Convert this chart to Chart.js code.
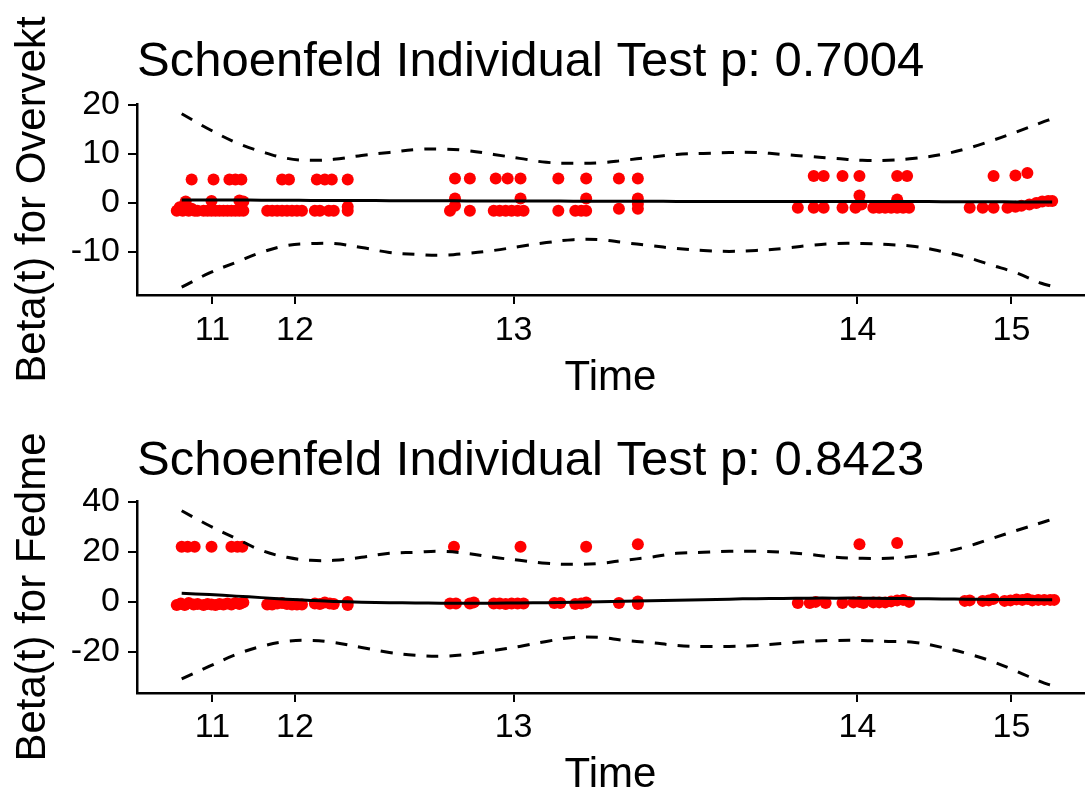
<!DOCTYPE html>
<html>
<head>
<meta charset="utf-8">
<title>Schoenfeld residuals</title>
<script src="https://cdn.jsdelivr.net/npm/chart.js@4.4.1/dist/chart.umd.min.js"></script>
<style>
  body { margin: 0; background: #fff; }
  .panel { position: absolute; left: 0; width: 1090px; height: 396px; }
</style>
</head>
<body>
<div class="panel" style="top:0"><canvas id="chartOvervekt" width="1090" height="396"></canvas></div>
<div class="panel" style="top:396px"><canvas id="chartFedme" width="1090" height="396"></canvas></div>
<script>
// time axis is km-transformed, so tick labels sit at uneven positions (0-100 scale)
const timeTicks = [11, 12, 13, 14, 15];
const timeTickPos = [7.97, 16.68, 39.77, 76.08, 92.34];

const overvektYTicks = [-10, 0, 10, 20];
const fedmeYTicks = [-20, 0, 20, 40];

// points where the smooth fit and its confidence band were read
const curveX = [4.72, 7.66, 10.49, 13.12, 15.84, 18.36, 20.78, 23.71, 26.65, 29.38,
  32.11, 34.84, 37.67, 40.40, 43.23, 46.07, 48.90, 51.42, 54.14, 56.98,
  59.81, 62.54, 65.37, 68.21, 70.93, 73.77, 76.60, 79.33, 82.16, 85.00,
  87.62, 90.24, 92.87, 95.49, 96.64];

const overvektFit = [0.6, 0.6, 0.6, 0.55, 0.55, 0.5, 0.5, 0.5, 0.45, 0.45,
  0.45, 0.4, 0.4, 0.4, 0.4, 0.35, 0.35, 0.35, 0.35, 0.3,
  0.3, 0.3, 0.3, 0.3, 0.3, 0.3, 0.3, 0.3, 0.3, 0.25,
  0.25, 0.25, 0.2, 0.2, 0.2];
const overvektUpper = [18.2, 15.0, 12.3, 10.5, 9.1, 8.7, 8.9, 9.7, 10.3, 10.9,
  11.0, 10.7, 9.9, 9.1, 8.3, 8.1, 8.2, 8.7, 9.3, 9.9,
  10.1, 10.3, 10.3, 9.9, 9.5, 9.1, 8.7, 8.7, 9.1, 9.9,
  11.1, 12.7, 14.5, 16.4, 17.2];
const overvektLower = [-17.2, -14.3, -12.1, -10.1, -8.7, -8.3, -8.3, -9.1, -10.1, -10.5,
  -10.7, -10.3, -9.7, -8.9, -8.1, -7.5, -7.5, -8.1, -8.7, -9.3,
  -9.7, -9.9, -9.7, -9.3, -8.7, -8.3, -8.3, -8.5, -8.9, -9.9,
  -11.1, -12.7, -14.3, -16.4, -17.0];

const overvektTime = [4.20, 4.51, 4.83, 5.14, 5.46, 5.77, 6.09, 6.40, 5.77, 7.03,
  7.45, 7.87, 7.87, 8.29, 8.71, 9.13, 9.55, 9.97, 10.39, 10.81,
  10.81, 11.23, 11.23, 8.08, 9.76, 10.39, 11.02, 13.75, 14.27, 14.80,
  15.32, 15.84, 16.37, 16.89, 17.42, 15.32, 16.05, 18.78, 19.31, 20.25,
  20.78, 22.25, 22.25, 18.99, 19.83, 20.57, 22.25,
  33.05, 33.58, 33.58, 35.15, 33.58, 35.15, 37.67, 38.30, 38.93, 39.56,
  40.19, 40.50, 40.82, 37.88, 39.14, 40.50, 44.49, 44.49, 46.28, 46.91,
  47.43, 47.43, 47.43, 50.89, 50.89, 52.89, 52.89, 52.89, 52.89,
  69.78, 71.46, 71.46, 72.51, 72.51, 74.50, 74.50, 75.87, 76.29, 76.50,
  76.29, 77.75, 78.38, 79.01, 79.64, 80.27, 80.27, 80.90, 81.53, 80.27,
  81.32, 87.93, 89.30, 90.45, 90.45, 91.92, 92.76, 92.76, 93.39, 94.02,
  94.23, 94.96, 95.59, 96.22, 96.64];
const overvektResid = [-1.6, -0.9, -1.6, 0.3, -1.6, -1.2, -1.6, -1.6, 4.8, -1.6,
  -1.6, 0.4, -1.6, -1.6, -1.6, -1.6, -1.6, -1.6, -1.6, 0.5,
  -1.6, -1.6, 0.3, 4.8, 4.8, 4.8, 4.8, -1.6, -1.6, -1.6,
  -1.6, -1.6, -1.6, -1.6, -1.6, 4.8, 4.8, -1.6, -1.6, -1.6,
  -1.6, -1.6, -0.8, 4.8, 4.8, 4.8, 4.8,
  -1.6, 0.9, -0.6, -1.6, 5.0, 5.0, -1.6, -1.6, -1.6, -1.6,
  -1.6, 0.9, -1.6, 5.0, 5.0, 5.0, -1.6, 5.0, -1.6, -1.6,
  0.9, -1.6, 5.0, -1.2, 5.0, -1.2, -0.2, 0.9, 5.0,
  -1.0, -1.0, 5.5, -1.0, 5.5, -1.0, 5.5, -1.0, 1.5, -0.3,
  5.5, -1.0, -1.0, -1.0, -1.0, 0.7, -1.0, -1.0, -1.0, 5.5,
  5.5, -1.0, -1.0, -1.0, 5.5, -1.0, -0.8, 5.6, -0.6, 6.1,
  -0.3, 0.0, 0.3, 0.4, 0.4];

const fedmeFit = [3.4, 2.9, 2.3, 1.7, 1.1, 0.6, 0.2, -0.1, -0.3, -0.4,
  -0.5, -0.5, -0.5, -0.4, -0.3, -0.1, 0.1, 0.3, 0.5, 0.7,
  0.9, 1.1, 1.3, 1.4, 1.5, 1.5, 1.5, 1.4, 1.3, 1.2,
  1.1, 1.0, 1.0, 0.9, 0.9];
const fedmeUpper = [36.4, 30.4, 25.3, 20.6, 17.8, 16.6, 16.6, 17.8, 19.4, 19.8,
  20.2, 19.4, 17.8, 16.6, 15.4, 15.0, 15.4, 16.6, 17.8, 19.4,
  19.8, 20.2, 20.2, 19.8, 19.0, 17.8, 17.4, 17.4, 18.2, 19.8,
  22.1, 25.3, 28.5, 31.6, 33.0];
const fedmeLower = [-30.8, -25.7, -21.0, -17.8, -15.8, -15.4, -16.2, -18.2, -20.2, -21.3,
  -21.7, -21.0, -19.4, -17.8, -15.8, -14.2, -14.2, -15.4, -16.2, -17.4,
  -17.8, -17.8, -17.4, -16.6, -15.8, -15.4, -15.4, -15.8, -16.2, -18.2,
  -20.6, -23.7, -27.7, -32.0, -33.5];

const fedmeTime = [4.72, 5.35, 6.09, 7.87, 9.97, 10.60, 11.12, 33.47, 40.50, 47.43,
  52.89, 76.29, 80.27,
  4.20, 4.62, 5.04, 5.46, 5.98, 6.40, 7.03, 7.45, 7.87, 8.29,
  8.71, 9.13, 9.55, 9.97, 10.39, 10.81, 11.23, 13.75, 14.27, 14.80,
  15.32, 15.84, 16.37, 16.89, 17.42, 18.78, 19.31, 19.83, 20.36, 20.78,
  22.25, 22.25, 33.05, 33.68, 35.15, 35.57, 37.67, 38.30, 38.93, 39.56,
  40.19, 40.82, 44.07, 44.70, 46.28, 46.91, 47.43, 50.89, 52.89, 52.89,
  69.78, 71.04, 71.67, 72.72, 74.50, 75.66, 76.29, 76.71, 77.75, 78.38,
  79.01, 79.64, 80.27, 80.90, 81.53, 87.41, 87.93, 89.30, 89.93, 90.45,
  91.61, 92.24, 92.87, 93.49, 94.02, 94.54, 95.17, 95.80, 96.43, 96.85];
const fedmeResid = [22, 22, 22, 22, 22, 22, 22, 22, 22, 22,
  23, 23, 23.5,
  -1.2, -0.6, -1.2, -0.4, -1.0, -0.8, -1.2, -0.8, -1.0, -1.2,
  -0.8, -1.0, -0.6, -1.0, -0.4, -0.8, -0.2, -1.0, -1.0, -0.6,
  -0.4, -0.8, -1.0, -1.0, -1.0, -0.6, -0.8, -0.2, -0.6, -0.8,
  -1.2, 0.0, -0.6, -0.6, -0.6, -0.2, -0.6, -0.6, -0.8, -0.6,
  -0.6, -0.6, -0.4, -0.4, -0.8, -0.6, -0.2, -0.4, -0.8, 0.2,
  -0.4, -0.4, 0.0, -0.4, -0.4, -0.2, 0.0, -0.4, -0.2, -0.2,
  -0.2, 0.2, 0.6, 0.8, 0.0, 0.4, 0.6, 0.4, 0.6, 1.2,
  0.4, 0.6, 1.0, 0.8, 1.2, 0.6, 0.8, 0.8, 0.8, 0.8];

const fontFamily = "'Liberation Sans', Arial, sans-serif";

function pairs(xs, ys) {
  return xs.map((x, i) => ({ x: x, y: ys[i] }));
}

function residualChart(id, p) {
  const curve = (ys, dash) => ({
    data: pairs(curveX, ys),
    showLine: true,
    borderColor: "#000",
    borderWidth: 3,
    borderDash: dash,
    pointRadius: 0,
    tension: 0.4
  });

  return new Chart(document.getElementById(id), {
    type: "scatter",
    data: {
      datasets: [
        curve(p.fit, []),
        curve(p.upper, [12, 11]),
        curve(p.lower, [12, 11]),
        {
          data: pairs(p.time, p.resid),
          backgroundColor: "#ff0000",
          borderWidth: 0,
          pointRadius: 6
        }
      ]
    },
    options: {
      responsive: false,
      animation: false,
      events: [],
      layout: { padding: 0 },
      plugins: {
        legend: { display: false },
        tooltip: { enabled: false },
        title: {
          display: true,
          text: p.title,
          align: "start",
          fullSize: false,
          color: "#000",
          font: { family: fontFamily, size: 49, weight: "normal", lineHeight: 1 },
          padding: { top: p.titleTop, bottom: p.titleBottom }
        }
      },
      scales: {
        x: {
          type: "linear",
          min: 0,
          max: 100,
          bounds: "data",
          afterBuildTicks: s => { s.ticks = timeTickPos.map(v => ({ value: v })); },
          afterFit: s => { s.height = p.xHeight; },
          ticks: {
            callback: (v, i) => timeTicks[i],
            autoSkip: false,
            maxRotation: 0,
            color: "#000",
            font: { family: fontFamily, size: 34, lineHeight: 1 },
            padding: p.xTickPad
          },
          grid: { drawOnChartArea: false, drawTicks: true, tickLength: 9, color: "#000", lineWidth: 2 },
          border: { display: true, color: "#000", width: 2.5 },
          title: {
            display: true,
            text: "Time",
            color: "#000",
            font: { family: fontFamily, size: 42, lineHeight: 0.8 },
            padding: { top: 0, bottom: p.timeBottom }
          }
        },
        y: {
          min: p.yMin,
          max: p.yMax,
          bounds: "data",
          afterBuildTicks: s => { s.ticks = p.yTicks.map(v => ({ value: v })); },
          afterFit: s => { s.width = 137; },
          ticks: {
            color: "#000",
            font: { family: fontFamily, size: 34, lineHeight: 1 },
            padding: 8
          },
          grid: { drawOnChartArea: false, drawTicks: true, tickLength: 9, color: "#000", lineWidth: 2 },
          border: { display: true, color: "#000", width: 2.5 },
          title: {
            display: true,
            text: p.yTitle,
            color: "#000",
            font: { family: fontFamily, size: 42, lineHeight: 1 },
            padding: { top: 12, bottom: 0 }
          }
        }
      }
    }
  });
}

residualChart("chartOvervekt", {
  title: "Schoenfeld Individual Test p: 0.7004",
  yTitle: "Beta(t) for Overvekt",
  fit: overvektFit, upper: overvektUpper, lower: overvektLower,
  time: overvektTime, resid: overvektResid,
  yMin: -18.8, yMax: 20.2, yTicks: overvektYTicks,
  titleTop: 38, titleBottom: 17, xHeight: 101, xTickPad: 10, timeBottom: 1
});

residualChart("chartFedme", {
  title: "Schoenfeld Individual Test p: 0.8423",
  yTitle: "Beta(t) for Fedme",
  fit: fedmeFit, upper: fedmeUpper, lower: fedmeLower,
  time: fedmeTime, resid: fedmeResid,
  yMin: -36.4, yMax: 40.3, yTicks: fedmeYTicks,
  titleTop: 41, titleBottom: 15, xHeight: 99, xTickPad: 9, timeBottom: 0
});
</script>
</body>
</html>
